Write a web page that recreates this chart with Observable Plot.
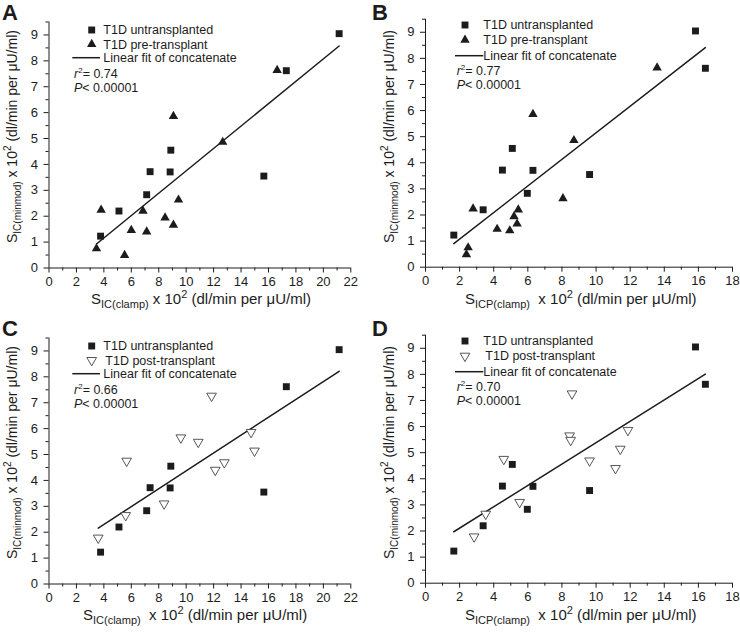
<!DOCTYPE html>
<html><head><meta charset="utf-8">
<script src="https://cdn.jsdelivr.net/npm/d3@7"></script>
<script src="https://cdn.jsdelivr.net/npm/@observablehq/plot@0.6"></script>
<style>
body{margin:0;background:#fff;}
#wrap{position:relative;width:740px;height:633px;font-family:"Liberation Sans",Arial,sans-serif;}
.panel{position:absolute;}
.panel svg{overflow:visible;}
text{white-space:pre;}
</style></head><body><div id="wrap"></div>
<script>
// ---- data ----
const untransY     = [9.05, 7.62, 3.55, 4.55, 3.71, 3.72, 2.83, 2.20, 1.23];
const untransClamp = [21.15, 17.3, 15.66, 8.88, 8.83, 7.37, 7.12, 5.10, 3.76];
const untransICP   = [15.83, 16.41, 9.62, 5.09, 6.30, 4.51, 5.97, 3.38, 1.66];

const preY     = [0.75, 2.24, 0.49, 1.46, 2.20, 1.40, 1.94, 1.66, 2.63, 5.86, 4.86, 7.64];
const preClamp = [3.46, 3.80, 5.51, 6.00, 6.85, 7.12, 8.46, 9.07, 9.44, 9.07, 12.66, 16.63];
const preICP   = [2.50, 2.79, 2.40, 4.20, 5.44, 4.94, 5.19, 5.37, 8.06, 6.30, 8.70, 13.58];

const postY     = [1.78, 2.65, 4.75, 3.10, 5.65, 5.48, 7.26, 4.40, 4.69, 5.86, 5.14];
const postClamp = [3.59, 5.59, 5.66, 8.39, 9.61, 10.88, 11.85, 12.12, 12.78, 14.73, 14.98];
const postICP   = [2.85, 3.53, 4.59, 5.52, 8.45, 8.51, 8.59, 11.14, 9.62, 11.87, 11.42];

const legendUntrans = "T1D untransplanted";
const legendPre = "T1D pre-transplant";
const legendPost = "T1D post-transplant";
const legendFit = "Linear fit of concatenate";
const r2Values = ["0.74", "0.77", "0.66", "0.70"];
const pText = "< 0.00001";
const panelLetters = ["A", "B", "C", "D"];
const xSubs = ["IC(clamp)", "ICP(clamp)", "IC(clamp)", "ICP(clamp)"];
const ySub = "IC(minmod)";
const unitText = "(dl/min per μU/ml)";

// ---- layout ----
const INK = "#1c1c1c";
const FONT = '"Liberation Sans", Arial, sans-serif';
const panels = [
  {i:0, left:0,   top:0,   h:316, ux:untransClamp, gx:preClamp,  gy:preY,  g:"pre",  xmax:22, ml:48.5, mr:19.7, mt:21.5, mb:48.5, xt:91, sp:" "},
  {i:1, left:370, top:0,   h:316, ux:untransICP,   gx:preICP,    gy:preY,  g:"pre",  xmax:18, ml:55,   mr:8,    mt:18.7, mb:49.3, xt:95, sp:"  "},
  {i:2, left:0,   top:316, h:317, ux:untransClamp, gx:postClamp, gy:postY, g:"post", xmax:22, ml:48.5, mr:19.7, mt:21.5, mb:49.5, xt:83, sp:"  "},
  {i:3, left:370, top:316, h:317, ux:untransICP,   gx:postICP,   gy:postY, g:"post", xmax:18, ml:55,   mr:8,    mt:18.7, mb:50.3, xt:95, sp:"  "}
];

function rich(svg, x, y, parts, rotate, anchor) {
  const t = svg.append("text").attr("x", x).attr("y", y).attr("fill", INK)
    .style("font-family", FONT).attr("text-anchor", anchor || "start");
  if (rotate) t.attr("transform", `rotate(-90 ${x} ${y})`);
  parts.forEach(p => {
    const s = t.append("tspan").attr("dy", p.dy || 0).style("font-size", p.size + "px").text(p.t);
    if (p.italic) s.style("font-style", "italic");
    if (p.bold) s.style("font-weight", "bold");
  });
  return t;
}

const wrap = d3.select("#wrap");
panels.forEach(P => {
  const untrans = untransY.map((y, k) => ({x: P.ux[k], y, g: "u"}));
  const other = P.gy.map((y, k) => ({x: P.gx[k], y, g: P.g}));
  const all = untrans.concat(other);
  const otherMark = P.g === "pre"
    ? Plot.dot(other, {x: "x", y: "y", symbol: "triangle", r: 3.5, fill: INK, stroke: "none"})
    : Plot.dot(other, {x: "x", y: "y", symbol: "triangle", rotate: 180, r: 3.6, fill: "white", stroke: "#444", strokeWidth: 0.9});
  const svgNode = Plot.plot({
    width: 370, height: P.h,
    marginLeft: P.ml, marginRight: P.mr, marginTop: P.mt, marginBottom: P.mb,
    style: {fontFamily: FONT, fontSize: "13px", color: INK, background: "white"},
    x: {domain: [0, P.xmax]},
    y: {domain: [0, 9.5]},
    marks: [
      Plot.ruleY([0], {stroke: INK, strokeWidth: 1}),
      Plot.ruleX([0], {stroke: INK, strokeWidth: 1}),
      Plot.axisX({ticks: d3.range(0, P.xmax + 1, 2), tickSize: 5, tickPadding: 4, label: null, fontSize: 13}),
      Plot.axisX({ticks: d3.range(1, P.xmax, 2), tickSize: 3, tickFormat: () => "", label: null}),
      Plot.axisY({ticks: d3.range(0, 10), tickSize: 5, tickPadding: 6, label: null, fontSize: 13}),
      Plot.axisY({ticks: d3.range(0.5, 9.6, 1), tickSize: 3, tickFormat: () => "", label: null}),
      Plot.linearRegressionY(all, {x: "x", y: "y", ci: 0, stroke: INK, strokeWidth: 1.5}),
      Plot.dot(untrans, {x: "x", y: "y", symbol: "square", r: 3.9, fill: INK, stroke: "none"}),
      otherMark
    ]
  });
  const div = wrap.append("div").attr("class", "panel").style("left", P.left + "px").style("top", P.top + "px");
  div.node().appendChild(svgNode);
  const svg = d3.select(svgNode);

  // panel letter
  rich(svg, 2, 20, [{t: panelLetters[P.i], size: 22, bold: true}]);

  // x title
  rich(svg, P.xt, 304, [
    {t: "S", size: 15},
    {t: xSubs[P.i], size: 11, dy: 4},
    {t: P.sp + "x 10", size: 15, dy: -4},
    {t: "2", size: 11, dy: -6},
    {t: " " + unitText, size: 15, dy: 6}
  ]);
  // y title
  rich(svg, P.ml - 31.5, 243, [
    {t: "S", size: 14},
    {t: ySub, size: 10, dy: 4},
    {t: " x 10", size: 14, dy: -4},
    {t: "2", size: 10, dy: -6},
    {t: " " + unitText, size: 14, dy: 6}
  ], true);

  // legend
  const L = P.i % 2 === 0
    ? {sx: 91.7, tx: 103.3, l1: 72.3, l2: 100, rx: 74, y: [30, 44.3, 57.7, 74, 88]}
    : {sx: 95, tx: 113.3, l1: 85, l2: 113.3, rx: 86.7, y: [25, 40, 55.7, 70.7, 84.7]};
  const sym = d3.symbol();
  svg.append("path").attr("d", sym.type(d3.symbolSquare).size(Math.PI * 3.9 * 3.9)())
    .attr("transform", `translate(${L.sx},${L.y[0]})`).attr("fill", INK);
  if (P.g === "pre") {
    svg.append("path").attr("d", sym.type(d3.symbolTriangle).size(Math.PI * 3.5 * 3.5)())
      .attr("transform", `translate(${L.sx},${L.y[1]})`).attr("fill", INK);
  } else {
    svg.append("path").attr("d", sym.type(d3.symbolTriangle).size(Math.PI * 3.6 * 3.6)())
      .attr("transform", `translate(${L.sx},${L.y[1]}) rotate(180)`).attr("fill", "white").attr("stroke", "#444").attr("stroke-width", 0.9);
  }
  svg.append("line").attr("x1", L.l1).attr("x2", L.l2).attr("y1", L.y[2]).attr("y2", L.y[2]).attr("stroke", INK).attr("stroke-width", 1.5);
  rich(svg, L.tx, L.y[0] + 4.3, [{t: legendUntrans, size: 12.5}]);
  rich(svg, L.tx + (P.g === "post" ? 2 : 0), L.y[1] + 4.3, [{t: P.g === "pre" ? legendPre : legendPost, size: 12.5}]);
  rich(svg, L.tx, L.y[2] + 4.3, [{t: legendFit, size: 12.5}]);
  rich(svg, L.rx, L.y[3] + 4.3, [{t: "r", size: 12.5, italic: true}, {t: "2", size: 8, dy: -5}, {t: "= " + r2Values[P.i], size: 12.5, dy: 5}]);
  rich(svg, L.rx, L.y[4] + 4.3, [{t: "P", size: 12.5, italic: true}, {t: pText, size: 12.5}]);
});
</script></body></html>
